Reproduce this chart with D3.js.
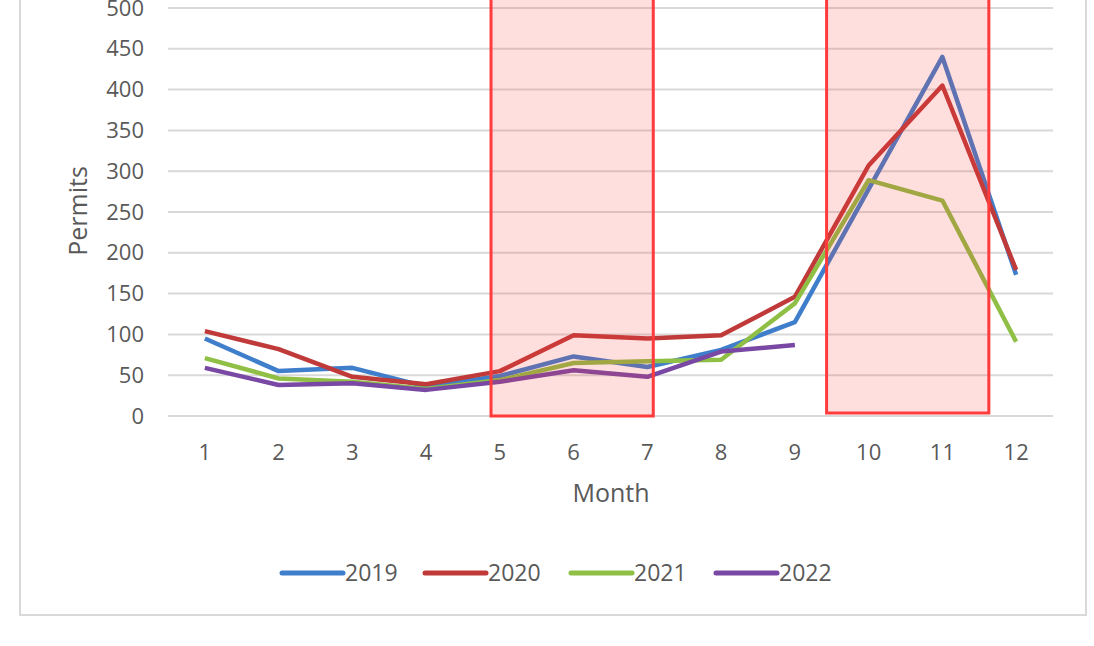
<!DOCTYPE html>
<html>
<head>
<meta charset="utf-8">
<script src="https://cdn.jsdelivr.net/npm/d3@7"></script>
<style>
  body { margin: 0; background: #fff; }
  text { font-family: "Open Sans", "DejaVu Sans", sans-serif; fill: #595959; }
</style>
</head>
<body>
<div id="chart"></div>
<script>
// Data
var months = [1, 2, 3, 4, 5, 6, 7, 8, 9, 10, 11, 12]
var years = ["2019", "2020", "2021", "2022"]
var v2019 = [95, 55, 59, 36, 49, 73, 60, 81, 115, 278, 440, 173]
var v2020 = [104, 82, 48, 39, 55, 99, 95, 99, 146, 307, 405, 179]
var v2021 = [71, 46, 42, 33, 44, 65, 67, 69, 138, 289, 264, 91]
var v2022 = [59, 38, 40, 32, 42, 56, 48, 79, 87]
var yTicks = [0, 50, 100, 150, 200, 250, 300, 350, 400, 450, 500]
// highlighted month ranges (hand drawn boxes)
var boxes = [[4.88, 7.08], [9.43, 11.63]]

var colors = ["#3f7ecb", "#bf3a38", "#8fbf45", "#7848a4"]
var series = [v2019, v2020, v2021, v2022]

var width = 1094, height = 646
var margin = { left: 168, right: 41, top: 8, bottom: 230 }
var plotW = width - margin.left - margin.right
var plotH = height - margin.top - margin.bottom

var svg = d3.select("#chart")
  .append("svg")
    .attr("width", width)
    .attr("height", height)

// outer chart frame (top is cut off)
svg.append("path")
  .attr("d", "M20,-5 L20,615 L1086,615 L1086,-5")
  .attr("fill", "none")
  .attr("stroke", "#d9d9d9")
  .attr("stroke-width", 2)

var g = svg.append("g")
  .attr("transform", "translate(" + margin.left + "," + margin.top + ")")

var x = d3.scaleBand()
  .domain(months)
  .range([0, plotW])

var xc = function (m) { return x(m) + x.bandwidth() / 2 }
// continuous month position for boxes
var xm = d3.scaleLinear()
  .domain([1, 12])
  .range([xc(1), xc(12)])

var y = d3.scaleLinear()
  .domain([0, 500])
  .range([plotH, 0])

// gridlines
g.append("g")
  .selectAll("line")
  .data(yTicks)
  .join("line")
    .attr("x1", 0)
    .attr("x2", plotW)
    .attr("y1", function (d) { return y(d) })
    .attr("y2", function (d) { return y(d) })
    .attr("stroke", "#d9d9d9")
    .attr("stroke-width", 2)

// y axis labels
var yAxis = d3.axisLeft(y).tickValues(yTicks).tickSize(0).tickPadding(24)
g.append("g")
  .call(yAxis)
  .call(function (s) { s.select(".domain").remove() })
  .selectAll("text")
    .attr("font-size", 22)
    .attr("font-family", "Open Sans, DejaVu Sans, sans-serif")
    .attr("fill", "#595959")

// x axis labels
var xAxis = d3.axisBottom(x).tickSize(0).tickPadding(28)
g.append("g")
  .attr("transform", "translate(0," + plotH + ")")
  .call(xAxis)
  .call(function (s) { s.select(".domain").remove() })
  .selectAll("text")
    .attr("font-size", 22)
    .attr("font-family", "Open Sans, DejaVu Sans, sans-serif")
    .attr("fill", "#595959")

// axis titles
g.append("text")
  .attr("x", 611 - margin.left)
  .attr("y", plotH + 86)
  .attr("text-anchor", "middle")
  .attr("font-size", 25)
  .text("Month")

g.append("text")
  .attr("transform", "rotate(-90)")
  .attr("x", -(211 - margin.top))
  .attr("y", -81)
  .attr("text-anchor", "middle")
  .attr("font-size", 25)
  .text("Permits")

// lines
var line = d3.line()
  .x(function (d, i) { return xc(months[i]) })
  .y(function (d) { return y(d) })

g.append("g")
  .selectAll("path")
  .data(series)
  .join("path")
    .attr("d", function (d) { return line(d) })
    .attr("fill", "none")
    .attr("stroke", function (d, i) { return colors[i] })
    .attr("stroke-width", 4.5)
    .attr("stroke-linejoin", "round")

// highlight boxes drawn over the lines
g.append("g")
  .selectAll("rect")
  .data(boxes)
  .join("rect")
    .attr("x", function (d) { return xm(d[0]) })
    .attr("width", function (d) { return xm(d[1]) - xm(d[0]) })
    .attr("y", -20)
    .attr("height", function (d, i) { return plotH + 20 - (i == 1 ? 3 : 0) })
    .attr("fill", "rgba(255,60,60,0.17)")
    .attr("stroke", "#ff3b3b")
    .attr("stroke-width", 3)

// legend
var legend = svg.append("g")
  .attr("transform", "translate(0,573)")

var legX = [282, 425, 571, 716]
var item = legend.selectAll("g")
  .data(years)
  .join("g")
    .attr("transform", function (d, i) { return "translate(" + legX[i] + ",0)" })

item.append("line")
  .attr("x1", 0)
  .attr("x2", 61)
  .attr("stroke", function (d, i) { return colors[i] })
  .attr("stroke-width", 5)
  .attr("stroke-linecap", "round")

item.append("text")
  .attr("x", 63)
  .attr("dy", "0.35em")
  .attr("font-size", 23)
  .text(function (d) { return d })
</script>
</body>
</html>
